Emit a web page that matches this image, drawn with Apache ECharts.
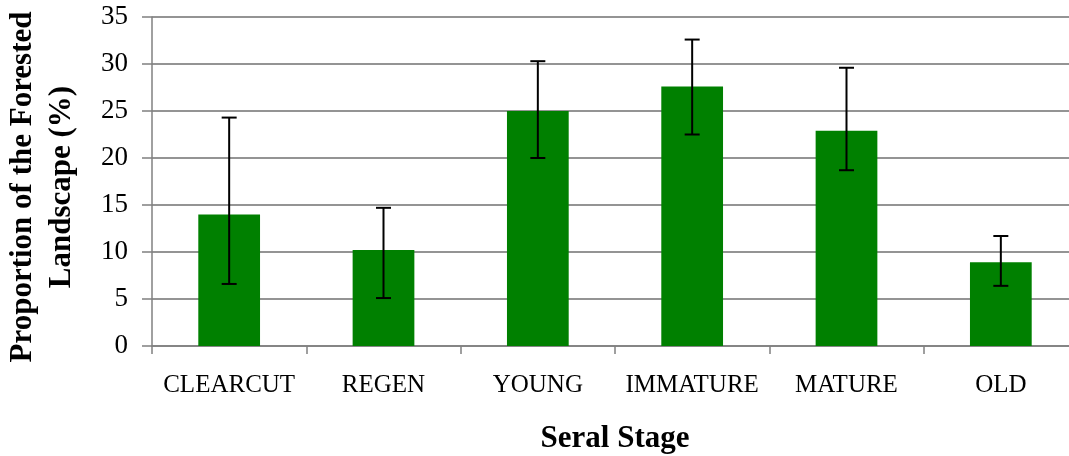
<!DOCTYPE html>
<html>
<head>
<meta charset="utf-8">
<script src="https://cdn.jsdelivr.net/npm/echarts@6/dist/echarts.min.js"></script>
<style>
html,body{margin:0;padding:0;background:#fff;}
#chart{width:1069px;height:456px;}
</style>
</head>
<body>
<div id="chart"></div>
<script>
var categories = ['CLEARCUT', 'REGEN', 'YOUNG', 'IMMATURE', 'MATURE', 'OLD'];
var values = [14.0, 10.2, 25.0, 27.6, 22.9, 8.9];
var errLow = [6.6, 5.1, 20.0, 22.5, 18.7, 6.4];
var errHigh = [24.3, 14.7, 30.3, 32.6, 29.6, 11.7];
var yTicks = [0, 5, 10, 15, 20, 25, 30, 35];

var errData = categories.map(function (c, i) { return [i, errLow[i], errHigh[i]]; });
var font = '"Liberation Serif", "Times New Roman", serif';

var chart = echarts.init(document.getElementById('chart'), null, {renderer: 'canvas'});
chart.setOption({
  animation: false,
  backgroundColor: '#ffffff',
  grid: {left: 152, top: 17, width: 926, height: 329, containLabel: false, outerBoundsMode: 'none'},
  xAxis: {
    type: 'category',
    data: categories,
    boundaryGap: true,
    axisLine: {show: true, lineStyle: {color: '#808080', width: 1.5}},
    axisTick: {show: true, length: 8, lineStyle: {color: '#808080', width: 1.5}},
    axisLabel: {interval: 0, margin: 27, color: '#000', fontFamily: font, fontSize: 25},
    name: 'Seral Stage',
    nameLocation: 'middle',
    nameGap: 77,
    nameTextStyle: {color: '#000', fontFamily: font, fontSize: 31, fontWeight: 'bold'}
  },
  yAxis: {
    type: 'value',
    min: 0,
    max: 35,
    interval: 5,
    axisLine: {show: true, lineStyle: {color: '#808080', width: 1.5}},
    axisTick: {show: true, inside: false, length: 10, lineStyle: {color: '#808080', width: 1.5}},
    axisLabel: {margin: 24, color: '#000', fontFamily: font, fontSize: 27,
      formatter: function (v) { return yTicks.indexOf(v) >= 0 ? String(v) : ''; }},
    splitLine: {show: true, lineStyle: {color: '#707070', width: 1.5}},
    name: 'Proportion of the Forested\nLandscape (%)',
    nameLocation: 'middle',
    nameGap: 71,
    nameTextStyle: {color: '#000', fontFamily: font, fontSize: 31, fontWeight: 'bold', lineHeight: 39, align: 'center', padding: [0, 11, 0, 0]}
  },
  series: [
    {
      type: 'bar',
      data: values,
      barWidth: '40%',
      itemStyle: {color: '#008000'},
      z: 2
    },
    {
      type: 'custom',
      data: errData,
      z: 5,
      renderItem: function (params, api) {
        var x = api.value(0);
        var lo = api.coord([x, api.value(1)]);
        var hi = api.coord([x, api.value(2)]);
        var half = 7.5;
        var style = {stroke: '#000', lineWidth: 2};
        return {
          type: 'group',
          children: [
            {type: 'line', shape: {x1: lo[0], y1: lo[1], x2: hi[0], y2: hi[1]}, style: style},
            {type: 'line', shape: {x1: hi[0] - half, y1: hi[1], x2: hi[0] + half, y2: hi[1]}, style: style},
            {type: 'line', shape: {x1: lo[0] - half, y1: lo[1], x2: lo[0] + half, y2: lo[1]}, style: style}
          ]
        };
      }
    }
  ]
});
</script>
</body>
</html>
